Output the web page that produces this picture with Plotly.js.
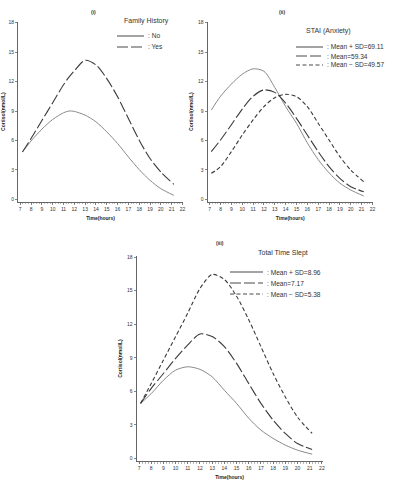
<!DOCTYPE html>
<html><head><meta charset="utf-8">
<script src="https://cdn.plot.ly/plotly-3.0.1.min.js"></script>
<style>html,body{margin:0;padding:0;background:#fff}</style>
</head><body><div id="chart" style="width:393px;height:485px"></div>
<script>
// ---- data ----
const hours1 = [7.2, 8, 9, 10, 11, 11.5, 12, 13, 14, 15, 16, 17, 18, 19, 20, 21.2];
const famNo  = [4.83, 5.95, 7.15, 8.14, 8.82, 9.0, 8.96, 8.58, 7.9, 6.88, 5.69, 4.32, 3.03, 1.94, 1.09, 0.41];
const famYes = [4.83, 6.2, 8.04, 9.84, 11.68, 12.45, 13.1, 14.17, 13.69, 12.3, 10.45, 8.24, 6.03, 4.16, 2.79, 1.53];

const hours2 = [7.15, 8, 9, 10, 11, 12, 13, 14, 15, 16, 17, 18, 19, 20, 21.2];
const staiHigh = [9.1, 10.5, 11.75, 12.75, 13.3, 13.05, 11.4, 9.45, 7.75, 5.75, 4.05, 2.7, 1.65, 0.95, 0.34];
const staiMean = [4.86, 6.05, 7.6, 9.2, 10.5, 11.15, 10.9, 9.8, 8.25, 6.55, 4.86, 3.33, 2.14, 1.29, 0.78];
const staiLow  = [2.65, 3.33, 4.86, 6.55, 8.09, 9.45, 10.36, 10.7, 10.46, 9.45, 7.75, 6.05, 4.35, 2.99, 1.8];

const hours3 = [7.13, 8, 9, 10, 11, 12, 13, 14, 15, 16, 17, 18, 19, 20, 21.2];
const sleepHigh = [4.93, 5.8, 7.0, 7.9, 8.2, 7.97, 7.3, 6.1, 4.93, 3.6, 2.54, 1.8, 1.2, 0.75, 0.39];
const sleepMean = [4.93, 6.27, 7.6, 8.95, 10.15, 11.13, 10.9, 10.0, 8.5, 6.7, 4.93, 3.43, 2.24, 1.34, 0.81];
const sleepLow  = [4.93, 6.7, 8.8, 10.9, 13.0, 15.2, 16.45, 16.0, 14.5, 12.4, 10.0, 7.6, 5.5, 3.7, 2.24];

const xTickVals = [7, 8, 9, 10, 11, 12, 13, 14, 15, 16, 17, 18, 19, 20, 21, 22];
const yTickVals = [0, 3, 6, 9, 12, 15, 18];
const panelTitles = ["(i)", "(ii)", "(iii)"];
const legendTitles = ["Family History", "STAI (Anxiety)", "Total Time Slept"];
const legend1Labels = [": No", ": Yes"];
const legend2Labels = [": Mean + SD=69.11", ": Mean=59.34", ": Mean \u2212 SD=49.57"];
const legend3Labels = [": Mean + SD=8.96", ": Mean=7.17", ": Mean \u2212 SD=5.38"];
const xTitle = "Time(hours)";
const yTitle = "Cortisol(nmol/L)";

// ---- styles ----
const W = 393, H = 485;
const px = v => v / W;
const py = v => 1 - v / H;
const solidStyle = {color: '#8a8a8a', width: 1, dash: 'solid'};
const longStyle  = {color: '#3a3a3a', width: 1.1, dash: '11px,3px'};
const shortStyle = {color: '#3a3a3a', width: 1.1, dash: '4px,2.5px'};
const styles3 = [solidStyle, longStyle, shortStyle];

function tr(x, y, xa, ya, line, name) {
  return {x: x, y: y, xaxis: xa, yaxis: ya, type: 'scatter', mode: 'lines',
          line: Object.assign({shape: 'spline', smoothing: 0.8}, line), name: name, showlegend: false, hoverinfo: 'skip'};
}
const traces = [
  tr(hours1, famNo, 'x', 'y', solidStyle, 'No'),
  tr(hours1, famYes, 'x', 'y', longStyle, 'Yes'),
  tr(hours2, staiHigh, 'x2', 'y2', solidStyle, 'Mean + SD'),
  tr(hours2, staiMean, 'x2', 'y2', longStyle, 'Mean'),
  tr(hours2, staiLow, 'x2', 'y2', shortStyle, 'Mean - SD'),
  tr(hours3, sleepHigh, 'x3', 'y3', solidStyle, 'Mean + SD'),
  tr(hours3, sleepMean, 'x3', 'y3', longStyle, 'Mean'),
  tr(hours3, sleepLow, 'x3', 'y3', shortStyle, 'Mean - SD')
];

const tickFont = {family: 'Liberation Sans, Arial, sans-serif', size: 5, color: '#333'};
const titleFont = {family: 'Liberation Sans, Arial, sans-serif', size: 5, color: '#222', weight: 'bold'};
function xAxis(domain, anchor) {
  return {domain: domain, anchor: anchor, range: [6.8, 22.05], tickmode: 'array', tickvals: xTickVals,
    showline: true, linecolor: '#666', linewidth: 1, ticks: 'outside', ticklen: 2, tickcolor: '#666', tickwidth: 0.8,
    minor: {tickmode: 'linear', tick0: 7, dtick: 0.25, ticks: 'outside', ticklen: 1.5, tickcolor: '#888', tickwidth: 0.6},
    showgrid: false, zeroline: false, tickfont: tickFont,
    title: {text: xTitle, font: titleFont, standoff: 5}, fixedrange: true};
}
function yAxis(domain, anchor) {
  return {domain: domain, anchor: anchor, range: [-0.22, 18.1], tickmode: 'array', tickvals: yTickVals,
    showline: true, linecolor: '#666', linewidth: 1, ticks: 'outside', ticklen: 2, tickcolor: '#666', tickwidth: 0.8,
    showgrid: false, zeroline: false, tickfont: tickFont,
    title: {text: yTitle, font: titleFont, standoff: 4}, fixedrange: true};
}

const topY = [py(201.5), py(21.7)];
const botY = [py(461), py(256)];

// ---- legends drawn as line samples + text ----
const shapes = [];
const annotations = [];
const legFont = {family: 'Liberation Sans, Arial, sans-serif', size: 6.6, color: '#333'};
function addLegend(title, titleX, titleY, lineX0, lineX1, textX, rowsY, labels, styleList) {
  annotations.push({xref: 'paper', yref: 'paper', x: px(titleX), y: py(titleY), text: title, showarrow: false,
    xanchor: 'center', yanchor: 'middle', font: Object.assign({}, legFont, {size: 7})});
  labels.forEach((lab, i) => {
    const s = styleList[i];
    shapes.push({type: 'line', xref: 'paper', yref: 'paper', x0: px(lineX0), x1: px(lineX1), y0: py(rowsY[i]), y1: py(rowsY[i]),
      line: {color: '#333', width: 0.9, dash: s.dash}});
    annotations.push({xref: 'paper', yref: 'paper', x: px(textX), y: py(rowsY[i]), text: lab, showarrow: false,
      xanchor: 'left', yanchor: 'middle', font: legFont});
  });
}
addLegend(legendTitles[0], 146, 21, 117, 144, 146, [36, 47], legend1Labels, [solidStyle, longStyle]);
addLegend(legendTitles[1], 328, 31, 296, 323, 325, [47, 56, 65], legend2Labels, styles3);
addLegend(legendTitles[2], 283, 253, 230, 263, 265, [272, 283, 294], legend3Labels, styles3);

const ptFont = {family: 'Liberation Sans, Arial, sans-serif', size: 5, color: '#333', weight: 'bold'};
[[93, 12], [282, 12], [220, 243]].forEach((p, i) => {
  annotations.push({xref: 'paper', yref: 'paper', x: px(p[0]), y: py(p[1]), text: panelTitles[i], showarrow: false,
    xanchor: 'center', yanchor: 'middle', font: ptFont});
});

const layout = {
  width: W, height: H, autosize: false,
  margin: {l: 0, r: 0, t: 0, b: 0, pad: 0},
  paper_bgcolor: '#fff', plot_bgcolor: '#fff',
  showlegend: false,
  xaxis: xAxis([px(18.1), px(183)], 'y'),
  yaxis: yAxis(topY, 'x'),
  xaxis2: xAxis([px(207.5), px(373)], 'y2'),
  yaxis2: yAxis(topY, 'x2'),
  xaxis3: xAxis([px(136.6), px(322.5)], 'y3'),
  yaxis3: yAxis(botY, 'x3'),
  shapes: shapes,
  annotations: annotations
};
Plotly.newPlot('chart', traces, layout, {staticPlot: true, displayModeBar: false});
</script>
</body></html>
